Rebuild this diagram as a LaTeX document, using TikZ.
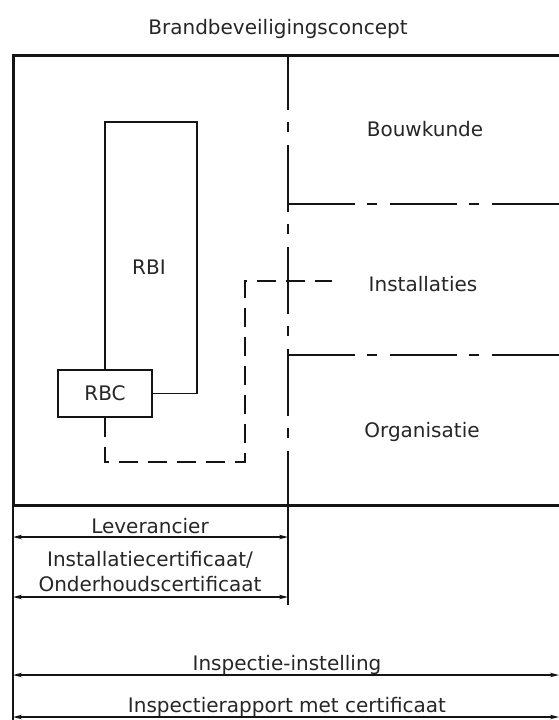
\documentclass[tikz,border=0pt]{standalone}
\usepackage{fontspec}
\setmainfont{DejaVu Sans}
\usetikzlibrary{arrows.meta}
\definecolor{PlanBlack}{HTML}{141414}
\definecolor{PlanText}{HTML}{262626}

\begin{document}
\begin{tikzpicture}[x=1pt,y=-1pt,>={Stealth[length=9pt,width=4.5pt]},
  txt/.style={font=\fontsize{20}{25}\selectfont,text=PlanText,inner sep=0pt,anchor=base},
  frame/.style={PlanBlack,line width=3pt},
  zone/.style={PlanBlack,line width=2.4pt,dash pattern=on 67pt off 12pt on 10pt off 13pt},
  part/.style={PlanBlack,line width=1.8pt},
  box/.style={draw=PlanBlack,line width=1.8pt,minimum width=94pt,minimum height=47pt,
    inner sep=0pt,font=\fontsize{20}{25}\selectfont,text=PlanText},
  signal/.style={PlanBlack,line width=1.6pt,dash pattern=on 19pt off 10pt},
  dim/.style={PlanBlack,line width=1.4pt}]
  \useasboundingbox (0,0) rectangle (559,720);

  % outer frame and zones
  \coordinate (ftl) at (13,55);
  \coordinate (ftr) at (559,55);
  \coordinate (fbl) at (13,505);
  \coordinate (fbr) at (559,505);
  \coordinate (dtop) at (288,55);
  \coordinate (dbot) at (288,505);
  \coordinate (z1l) at (288,204);
  \coordinate (z1r) at (559,204);
  \coordinate (z2l) at (288,355);
  \coordinate (z2r) at (559,355);
  \draw[frame] (ftr) -- (ftl) -- (fbl) -- (fbr);
  \draw[zone,dash phase=12pt] (dtop) -- (dbot);
  \draw[zone] (z1l) -- (z1r);
  \draw[zone] (z2l) -- (z2r);

  \node[txt] (title) at (278,34) {Brandbeveiligingsconcept};
  \node[txt] (bouw) at (425,136) {Bouwkunde};
  \node[txt] (inst) at (423,291) {Installaties};
  \node[txt] (org) at (422,437) {Organisatie};

  % RBI and RBC
  \node[box] (rbc) at (105,393.5) {RBC};
  \node[txt] (rbi) at (149,274) {RBI};
  \coordinate (rbitop) at (197,122);
  \draw[part] (rbc.north) |- (rbitop) |- (rbc.east);

  \coordinate (sigturn) at (245,462);
  \coordinate (sigend) at (332,281);
  \draw[signal] (rbc.south) |- (sigturn) |- (sigend);

  % parties below
  \coordinate (extl) at (13,720);
  \coordinate (extm) at (288,605);
  \draw[dim] (fbl) -- (extl);
  \draw[dim] (dbot) -- (extm);

  \coordinate (lev-l) at (13,537);
  \coordinate (lev-r) at (288,537);
  \coordinate (cert-l) at (13,597);
  \coordinate (cert-r) at (288,597);
  \coordinate (insp-l) at (13,675);
  \coordinate (insp-r) at (559,675);
  \coordinate (rap-l) at (13,717);
  \coordinate (rap-r) at (559,717);
  \draw[dim,<->] (lev-l) -- (lev-r);
  \draw[dim,<->] (cert-l) -- (cert-r);
  \draw[dim,<->] (insp-l) -- (insp-r);
  \draw[dim,<->] (rap-l) -- (rap-r);

  \node[txt] (lev) at (150,533) {Leverancier};
  \node[txt] (cert1) at (150,566) {Installatiecertificaat/};
  \node[txt] (cert2) at (150,591) {Onderhoudscertificaat};
  \node[txt] (insp) at (287,670) {Inspectie-instelling};
  \node[txt] (rap) at (287,712) {Inspectierapport met certificaat};
\end{tikzpicture}
\end{document}
